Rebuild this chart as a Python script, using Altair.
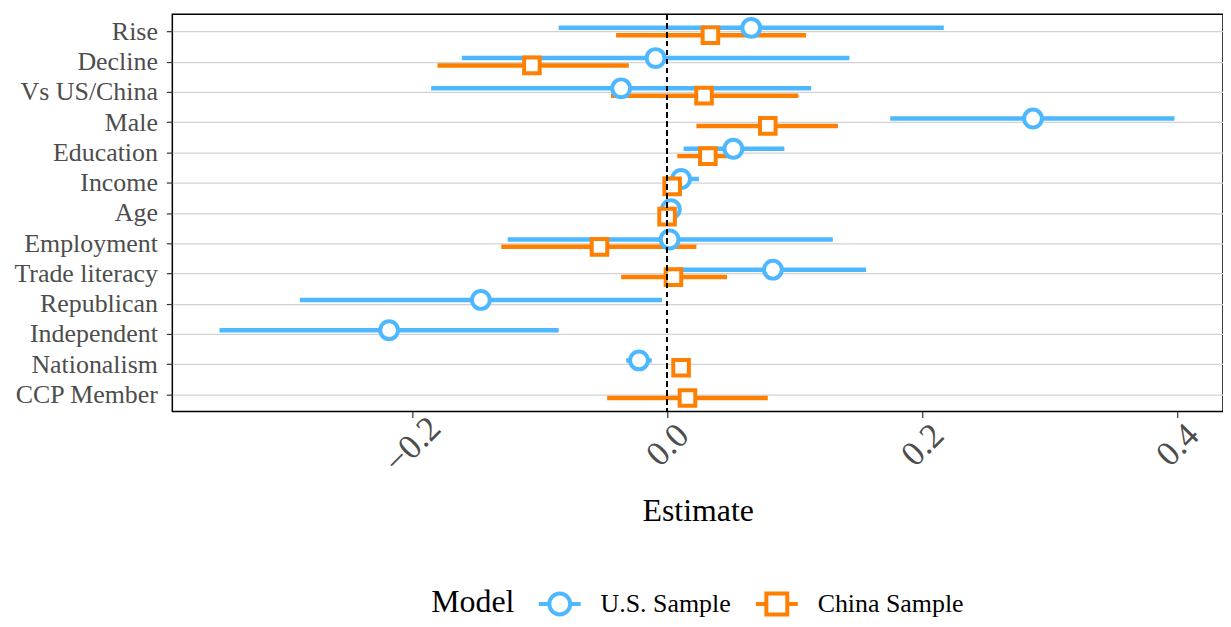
import altair as alt
import pandas as pd

terms = ["Rise", "Decline", "Vs US/China", "Male", "Education", "Income", "Age",
         "Employment", "Trade literacy", "Republican", "Independent", "Nationalism",
         "CCP Member"]

models = ["U.S. Sample", "China Sample"]
colors = ["#4db8ff", "#ff7f00"]

us_terms = ["Rise", "Decline", "Vs US/China", "Male", "Education", "Income", "Age",
            "Employment", "Trade literacy", "Republican", "Independent", "Nationalism"]
us_est = [0.066, -0.009, -0.036, 0.287, 0.052, 0.011, 0.003, 0.002, 0.083, -0.146, -0.218, -0.022]
us_lo = [-0.085, -0.161, -0.185, 0.175, 0.013, -0.003, -0.002, -0.125, 0.008, -0.288, -0.351, -0.032]
us_hi = [0.217, 0.143, 0.113, 0.398, 0.092, 0.025, 0.008, 0.130, 0.156, -0.004, -0.085, -0.012]

cn_terms = ["Rise", "Decline", "Vs US/China", "Male", "Education", "Income", "Age",
            "Employment", "Trade literacy", "Nationalism", "CCP Member"]
cn_est = [0.034, -0.106, 0.029, 0.079, 0.032, 0.004, 0.000, -0.053, 0.005, 0.011, 0.016]
cn_lo = [-0.040, -0.180, -0.044, 0.023, 0.008, 0.001, -0.003, -0.130, -0.036, 0.008, -0.047]
cn_hi = [0.109, -0.030, 0.103, 0.134, 0.050, 0.007, 0.003, 0.023, 0.047, 0.014, 0.079]

x_ticks = [-0.2, 0.0, 0.2, 0.4]

rows = []
for t, e, l, h in zip(us_terms, us_est, us_lo, us_hi):
    rows.append({"Term": t, "Model": models[0], "est": e, "lo": l, "hi": h})
for t, e, l, h in zip(cn_terms, cn_est, cn_lo, cn_hi):
    rows.append({"Term": t, "Model": models[1], "est": e, "lo": l, "hi": h})
df = pd.DataFrame(rows)

FONT = "Liberation Serif"

circle_path = ("M-1,0H-0.5 M0.5,0H1 M-0.5,0A0.5,0.5,0,1,0,0.5,0"
               "A0.5,0.5,0,1,0,-0.5,0Z")
square_path = "M-1,0H-0.5 M0.5,0H1 M-0.5,-0.5H0.5V0.5H-0.5Z"

legend = alt.Legend(
    title="Model", orient="none", legendX=260, legendY=569,
    direction="horizontal", titleOrient="left", titleFontSize=32,
    titleFont=FONT, titleFontWeight="normal", titleColor="black",
    titlePadding=22, labelFont=FONT, labelFontSize=26, labelColor="black",
    labelOffset=18, columnPadding=17, symbolSize=1764, symbolStrokeWidth=4,
    titleBaseline="middle",
)

color_enc = alt.Color("Model:N", scale=alt.Scale(domain=models, range=colors),
                      legend=legend)

x_scale = alt.Scale(domain=[-0.388, 0.436], nice=False, zero=False)
y_enc = alt.Y("Term:N", sort=terms,
              scale=alt.Scale(type="point", padding=0.57),
              axis=alt.Axis(title=None, grid=True, gridColor="#d2d2d2", gridWidth=1.2,
                            labelFont=FONT, labelFontSize=26, labelColor="#4d4d4d",
                            labelPadding=9, tickSize=6, tickColor="#333333",
                            tickWidth=1.2, domain=False))
x_axis = alt.Axis(title="Estimate", values=x_ticks, format=".1f", grid=False,
                  labelAngle=-45, labelAlign="center", labelBaseline="middle",
                  labelPadding=27, labelFont=FONT, labelFontSize=35,
                  labelColor="#4d4d4d", tickSize=6, tickColor="#333333",
                  tickWidth=1.2, domain=False, titleFont=FONT, titleFontSize=32,
                  titleFontWeight="normal", titleColor="black", titlePadding=16)

base = alt.Chart(df)
off = {models[0]: -3.7, models[1]: 3.7}

layers = []
for m in models:
    layers.append(
        base.transform_filter(alt.datum.Model == m).mark_rule(
            strokeWidth=4.5, yOffset=off[m]).encode(
            x=alt.X("lo:Q", scale=x_scale, axis=x_axis), x2="hi:Q", y=y_enc,
            color=color_enc)
    )
shapes = {models[0]: ("circle", 320), models[1]: ("square", 245)}
for m in models:
    shp, sz = shapes[m]
    layers.append(
        base.transform_filter(alt.datum.Model == m).mark_point(
            shape=shp, size=sz, filled=False, fill="white", fillOpacity=1,
            strokeWidth=4, opacity=1, yOffset=off[m]).encode(
            x=alt.X("est:Q", scale=x_scale, axis=x_axis), y=y_enc,
            color=color_enc)
    )

legend_layer = base.transform_filter("false").mark_point(
    filled=False, strokeWidth=4, opacity=1).encode(
    color=color_enc,
    shape=alt.Shape("Model:N", scale=alt.Scale(domain=models,
                                               range=[circle_path, square_path]),
                    legend=legend),
)

zero_line = alt.Chart(df).mark_rule(color="black", strokeDash=[5, 4],
                                    strokeWidth=1.3).encode(x=alt.datum(0))

chart = alt.layer(legend_layer, *layers, zero_line).properties(
    width=1055, height=399, background="white",
    padding={"left": 5, "top": 1, "right": 0, "bottom": 0},
).configure_view(stroke="black", strokeWidth=1.5).configure_axis(
    labelFont=FONT, titleFont=FONT)

chart.save("out.html", embed_options={"renderer": "svg", "actions": False})
